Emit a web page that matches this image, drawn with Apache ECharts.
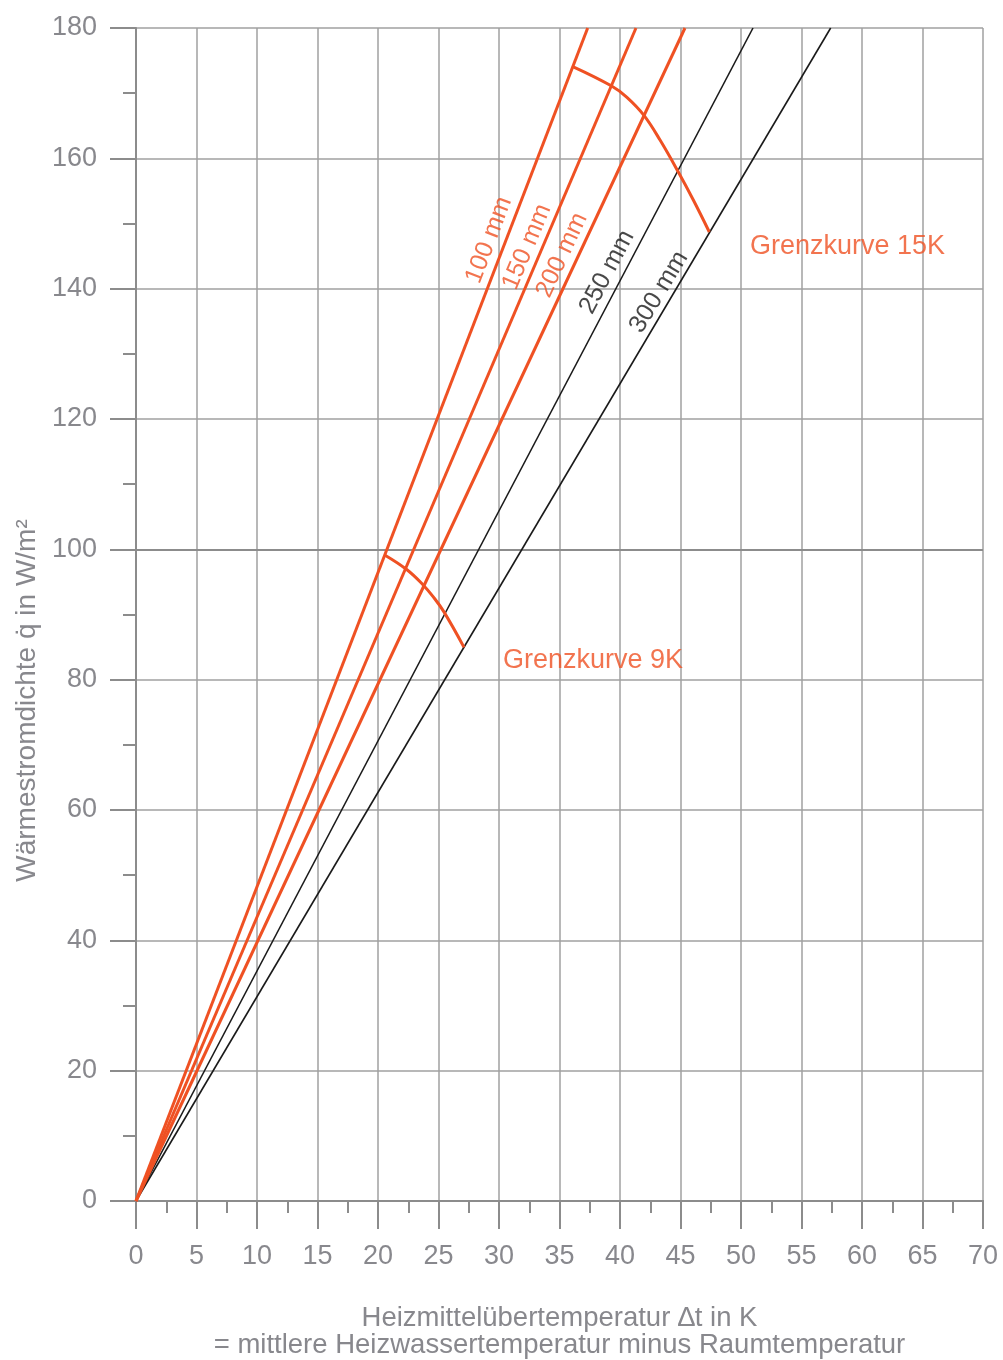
<!DOCTYPE html>
<html>
<head>
<meta charset="utf-8">
<script src="https://cdn.jsdelivr.net/npm/echarts@6/dist/echarts.min.js"></script>
<style>
  html, body { margin: 0; padding: 0; background: #fff; }
  #chart { width: 1003px; height: 1360px; }
</style>
</head>
<body>
<div id="chart"></div>
<script>
// pipe spacing lines: Δt where each line reaches q = 180 W/m²
const spacings = ['100 mm', '150 mm', '200 mm', '250 mm', '300 mm'];
const dtAt180 = [37.33, 41.32, 45.37, 50.99, 57.41];
const lineColors = ['#ef5123', '#ef5123', '#ef5123', '#1a1a1a', '#1a1a1a'];

// limit curves
const grenz15 = [[36.14, 174.05], [39.31, 171.1], [40.55, 169.4], [41.98, 166.6], [43.31, 162.8], [44.82, 157.9], [46.06, 153.6], [47.38, 148.7]];
const grenz9 = [[20.58, 99.1], [22.37, 96.9], [23.75, 94.5], [24.57, 92.7], [25.45, 90.4], [27.11, 84.96]];

// label anchors (data coords) and rotation
const spacingLabelPos = [[29.17, 147.46], [32.31, 146.39], [35.21, 145.16], [38.93, 142.55], [43.22, 139.48]];
const spacingLabelRot = [69, 67, 65, 62, 59];
const grenzLabels = ['Grenzkurve 15K', 'Grenzkurve 9K'];
const grenzLabelPos = [[50.74, 146.54], [30.33, 82.86]];

const ORANGE = '#ef5123';
const GRAY_TXT = '#88888d';
const AXIS = '#8c8c8c';
const GRID = '#a0a0a0';
const FONT = "'Liberation Sans', Arial, sans-serif";

const chart = echarts.init(document.getElementById('chart'));

const series = [];
spacings.forEach(function (name, i) {
  series.push({
    name: name,
    type: 'line',
    data: [[0, 0], [dtAt180[i], 180]],
    symbol: 'none',
    lineStyle: { color: lineColors[i], width: i < 3 ? 3 : 1.6 },
    z: i < 3 ? 4 : 3
  });
});
series.push({
  name: 'Grenzkurve 15K', type: 'line', data: grenz15, smooth: 0.4, symbol: 'none',
  lineStyle: { color: ORANGE, width: 3 }, z: 5
});
series.push({
  name: 'Grenzkurve 9K', type: 'line', data: grenz9, smooth: 0.4, symbol: 'none',
  lineStyle: { color: ORANGE, width: 3 }, z: 5,
  markLine: {
    silent: true, symbol: 'none', label: { show: false },
    lineStyle: { color: AXIS, width: 2, type: 'solid' },
    data: [{ yAxis: 100 }], z: 2
  }
});
series.push({
  name: 'labels', type: 'scatter', symbolSize: 0, z: 6,
  data: spacings.map(function (s, i) {
    return {
      value: spacingLabelPos[i],
      label: { formatter: s, rotate: spacingLabelRot[i], color: lineColors[i], fontSize: 25 }
    };
  }).concat(grenzLabels.map(function (s, i) {
    return {
      value: grenzLabelPos[i],
      label: { formatter: s, align: 'left', color: ORANGE, fontSize: 27 }
    };
  })),
  label: {
    show: true, position: 'inside', align: 'center', verticalAlign: 'middle',
    fontFamily: FONT
  }
});

chart.setOption({
  animation: false,
  backgroundColor: '#fff',
  grid: { left: 136, right: 20, top: 28, bottom: 159, outerBoundsMode: 'none', containLabel: false },
  xAxis: [{
    type: 'value', min: 0, max: 70, interval: 5,
    name: 'Heizmittelübertemperatur \u2206t in K\n= mittlere Heizwassertemperatur minus Raumtemperatur',
    nameLocation: 'middle', nameGap: 104,
    nameTextStyle: { color: GRAY_TXT, fontSize: 27.5, fontFamily: FONT, lineHeight: 27 },
    axisLine: { onZero: false, lineStyle: { color: AXIS, width: 2 } },
    axisTick: { show: true, length: 28, lineStyle: { color: AXIS, width: 2 } },
    minorTick: { show: true, splitNumber: 2, length: 12, lineStyle: { color: AXIS, width: 2 } },
    axisLabel: { color: GRAY_TXT, fontSize: 27, fontFamily: FONT, margin: 42 },
    splitLine: { show: true, lineStyle: { color: GRID, width: 1.5 } }
  }, {
    type: 'value', min: 0, max: 70, position: 'top',
    axisLine: { show: true, lineStyle: { color: AXIS, width: 2 } },
    axisTick: { show: false }, axisLabel: { show: false }, splitLine: { show: false }
  }],
  yAxis: {
    type: 'value', min: 0, max: 180, interval: 20,
    name: 'Wärmestromdichte q\u0307 in W/m²',
    nameLocation: 'middle', nameGap: 95,
    nameTextStyle: { color: GRAY_TXT, fontSize: 28, fontFamily: FONT, padding: [0, 172, 0, 0] },
    axisLine: { show: true, lineStyle: { color: AXIS, width: 2 } },
    axisTick: { show: true, length: 26, lineStyle: { color: AXIS, width: 2 } },
    minorTick: { show: true, splitNumber: 2, length: 13, lineStyle: { color: AXIS, width: 2 } },
    axisLabel: { color: GRAY_TXT, fontSize: 27, fontFamily: FONT, margin: 39 },
    splitLine: { show: true, lineStyle: { color: GRID, width: 1.5 } }
  },
  series: series
});
</script>
</body>
</html>
